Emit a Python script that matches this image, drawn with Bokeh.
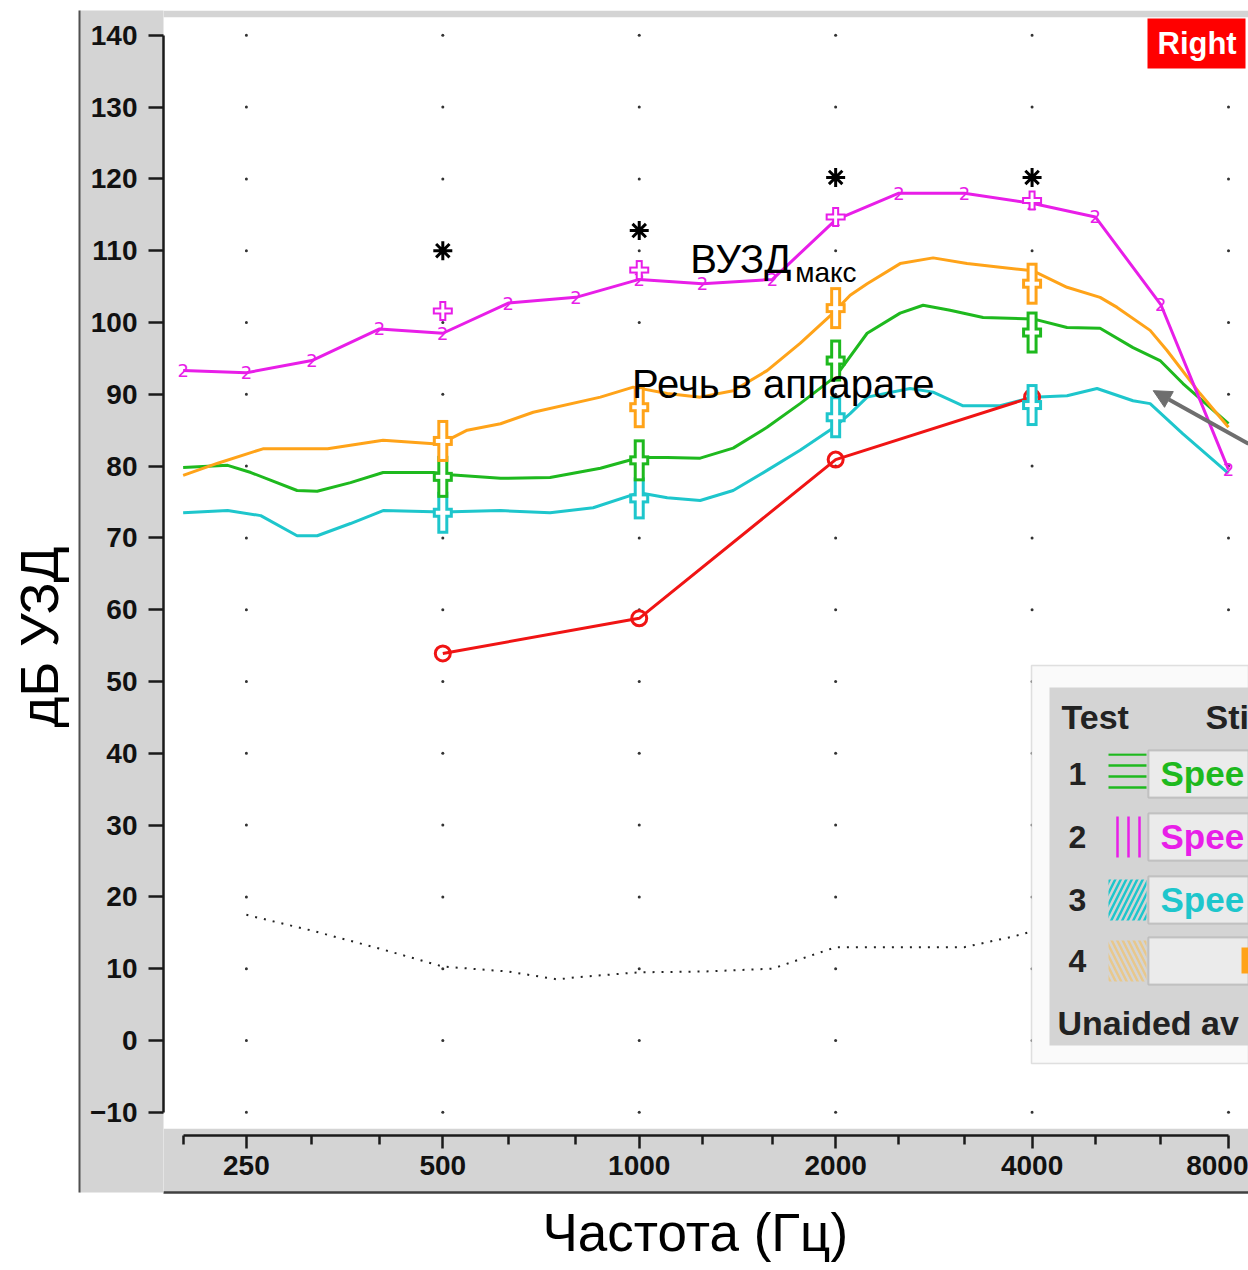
from bokeh.plotting import figure
from bokeh.models import (Range1d, FixedTicker, Title, Label, BoxAnnotation,
                          Arrow, NormalHead, CustomJSTickFormatter, LinearAxis,
                          LogAxis)
from bokeh.core.properties import value
from bokeh.embed import file_html
from bokeh.resources import INLINE

# ---------------- data ----------------
X_TICKS = [250, 500, 1000, 2000, 4000, 8000]
X_MINOR = [200, 315, 400, 630, 800, 1250, 1600, 2500, 3150, 5000, 6300]
Y_TICKS = list(range(-10, 141, 10))

# Test 2 (magenta) - output with "2" markers
freq_t2 = [200, 250, 315, 400, 500, 630, 800, 1000, 1250, 1600, 2000, 2500,
           3150, 4000, 5000, 6300, 8000]
db_t2 = [93.3, 93.0, 94.7, 99.1, 98.5, 102.7, 103.5, 106.0, 105.4, 106.0,
         114.3, 118.0, 118.0, 116.6, 114.7, 102.5, 79.5]

# Test 4 (orange)
freq_t4 = [200, 226, 265, 333, 405, 484, 513, 545, 613, 688, 872, 979, 1104,
           1240, 1393, 1570, 1764, 1982, 2105, 2235, 2511, 2821, 3180, 3573,
           4014, 4525, 5085, 5400, 6067, 6440, 7235, 8000]
db_t4 = [78.7, 80.4, 82.4, 82.4, 83.6, 83.1, 83.8, 85.0, 85.9, 87.5, 89.6,
         91.0, 90.1, 89.6, 90.5, 93.3, 97.1, 101.3, 103.8, 105.4, 108.2, 109.0,
         108.2, 107.7, 107.2, 104.9, 103.5, 102.1, 98.9, 96.1, 90.1, 85.4]

# Test 1 (green)
freq_t1 = [200, 234, 254, 299, 321, 361, 405, 484, 513, 613, 730, 872, 1000,
           1104, 1240, 1393, 1570, 1764, 2000, 2235, 2511, 2723, 2995, 3365,
           4014, 4525, 5085, 5712, 6283, 6812, 8000]
db_t1 = [79.8, 80.1, 79.1, 76.6, 76.5, 77.7, 79.1, 79.1, 78.8, 78.3, 78.4,
         79.7, 81.2, 81.2, 81.1, 82.5, 85.4, 88.7, 92.5, 98.5, 101.3, 102.4,
         101.7, 100.7, 100.5, 99.3, 99.2, 96.5, 94.7, 91.5, 85.9]

# Test 3 (cyan)
freq_t3 = [200, 234, 263, 299, 321, 361, 405, 500, 613, 730, 850, 1000, 1104,
           1240, 1393, 1570, 1764, 1982, 2105, 2235, 2601, 2821, 3136, 3573,
           4014, 4525, 5030, 5712, 6067, 6812, 8000]
db_t3 = [73.5, 73.8, 73.1, 70.3, 70.3, 72.0, 73.8, 73.6, 73.8, 73.5, 74.2,
         76.3, 75.6, 75.2, 76.6, 79.4, 82.2, 85.3, 87.3, 89.6, 90.8, 90.3,
         88.4, 88.4, 89.6, 89.8, 90.8, 89.1, 88.7, 84.5, 79.0]

# Unaided thresholds (red circles)
freq_thr = [500, 1000, 2000, 4000]
db_thr = [53.9, 58.8, 80.9, 89.6]

# Dotted reference curve
freq_ref = [250, 315, 400, 500, 630, 750, 800, 1000, 1250, 1600, 2000, 2500,
            3150, 3750, 4000]
db_ref = [17.5, 15.3, 12.8, 10.3, 9.6, 8.5, 8.8, 9.5, 9.6, 10.0, 13.0, 13.0,
          13.0, 14.5, 15.2]

# Measured points at audiometric frequencies
freq_meas = [500, 1000, 2000, 4000]
meas_t4 = [83.5, 88.2, 102.0, 105.4]
meas_t1 = [78.5, 80.8, 94.7, 98.6]
meas_t3 = [73.5, 75.5, 86.8, 88.5]
meas_t2 = [101.6, 107.3, 114.7, 117.0]
ucl = [110.0, 112.8, 120.2, 120.2]

LEGEND_NUM = ["1", "2", "3", "4"]
LEGEND_TXT = ["Spee", "Spee", "Spee", ""]

# ---------------- styling ----------------
MAGENTA = "#e81ee8"
ORANGE = "#ffa319"
GREEN = "#1eb91e"
CYAN = "#1ec6cc"
RED = "#f01414"
GRAY = "#d4d4d4"
AX = "#1a1a1a"
FONT = "Liberation Sans"

FL, FB = 163, 1192          # frame left / bottom in page pixels


def sx(px):
    return px - FL


def sy(py):
    return FB - py


p = figure(width=1248, height=1270, x_axis_type="log",
           x_range=Range1d(186.6, 8585.0), y_range=Range1d(-21.17, 143.45),
           output_backend="svg", toolbar_location=None,
           min_border_left=163, min_border_right=0, min_border_top=10,
           min_border_bottom=78)
p.background_fill_color = "white"
p.border_fill_color = "white"
p.outline_line_color = None
p.grid.grid_line_color = None

for ax in (p.xaxis[0], p.yaxis[0]):
    ax.axis_line_width = 2.5
    ax.axis_line_color = AX
    ax.major_tick_line_width = 2.5
    ax.major_tick_line_color = AX
    ax.minor_tick_line_width = 2.5
    ax.minor_tick_line_color = AX
    ax.major_tick_in = 0
    ax.minor_tick_in = 0
    ax.major_label_text_font = FONT
    ax.major_label_text_font_style = "bold"
    ax.major_label_text_font_size = "28px"
    ax.major_label_text_color = "#111111"

xa = p.xaxis[0]
xa.ticker = FixedTicker(ticks=X_TICKS, minor_ticks=X_MINOR)
xa.formatter = CustomJSTickFormatter(code="return tick.toFixed(0);")
xa.bounds = (200, 8000)
xa.major_tick_out = 13
xa.minor_tick_out = 9
xa.major_label_standoff = 8
xa.fixed_location = -13.23

ya = p.yaxis[0]
ya.ticker = FixedTicker(ticks=Y_TICKS)
ya.bounds = (-10, 140)
ya.major_tick_out = 15
ya.minor_tick_out = 0
ya.minor_tick_line_color = None
ya.major_label_standoff = 11
ya.background_fill_color = GRAY
ya.axis_label = "\u00a0"
ya.axis_label_standoff = 0
ya.axis_label_text_font_size = "4px"

# dark outer edges of the panel (plain axes with only a line)
edge_y = LinearAxis(ticker=FixedTicker(ticks=[]), major_tick_out=0,
                    minor_tick_out=0, major_label_standoff=0,
                    axis_line_color="#505050", axis_line_width=2)
p.add_layout(edge_y, "left")
edge_x = LogAxis(ticker=FixedTicker(ticks=[]), major_tick_out=0,
                 minor_tick_out=0, major_label_standoff=0,
                 axis_line_color="#404040", axis_line_width=2.5)
p.add_layout(edge_x, "below")

p.add_layout(Title(text="Частота (Гц)", align="left",
                   text_font=FONT, text_font_size="53px",
                   text_font_style="normal", text_color="black", offset=379,
                   standoff=17), "below")
p.add_layout(Title(text="дБ УЗД", align="left", vertical_align="top",
                   text_font=FONT, text_font_size="53px",
                   text_font_style="normal", text_color="black", offset=465,
                   standoff=18), "left")

# gray strips of the panel inside the frame
p.add_layout(BoxAnnotation(top=-12.3, fill_color=GRAY, fill_alpha=1,
                           line_color=None, level="underlay"))
p.add_layout(BoxAnnotation(bottom=142.5, fill_color=GRAY, fill_alpha=1,
                           line_color=None, level="underlay"))

# grid dots
gx = [f for f in X_TICKS for _ in Y_TICKS]
gy = [d for _ in X_TICKS for d in Y_TICKS]
p.scatter(gx, gy, size=3, color="#333333", line_width=0)

# dotted curve
p.line(freq_ref, db_ref, line_color="#222222", line_width=2, line_dash="2 7")

# curves
p.line(freq_t3, db_t3, line_color=CYAN, line_width=3)
p.line(freq_t1, db_t1, line_color=GREEN, line_width=3)
p.line(freq_t4, db_t4, line_color=ORANGE, line_width=3)
p.line(freq_t2, db_t2, line_color=MAGENTA, line_width=3)
p.text(freq_t2, db_t2, text=value("2"), text_font=value("DejaVu Sans"),
       text_font_size="18px", text_color=MAGENTA, text_align="center",
       text_baseline="middle")

# red thresholds
p.line(freq_thr, db_thr, line_color=RED, line_width=3)
p.scatter(freq_thr, db_thr, marker="circle", size=15, fill_color=None,
          line_color=RED, line_width=3)


def tall_cross(ys, color):
    p.rect(freq_meas, ys, width=11, height=42, width_units="screen",
           height_units="screen", fill_color=color, line_color=None)
    p.rect(freq_meas, ys, width=20, height=10, width_units="screen",
           height_units="screen", fill_color=color, line_color=None)
    p.rect(freq_meas, ys, width=5, height=36, width_units="screen",
           height_units="screen", fill_color="white", line_color=None)
    p.rect(freq_meas, ys, width=14, height=4, width_units="screen",
           height_units="screen", fill_color="white", line_color=None)


tall_cross(meas_t3, CYAN)
tall_cross(meas_t1, GREEN)
tall_cross(meas_t4, ORANGE)

# magenta plus markers
p.rect(freq_meas, meas_t2, width=7, height=20, width_units="screen",
       height_units="screen", fill_color=MAGENTA, line_color=None)
p.rect(freq_meas, meas_t2, width=20, height=7, width_units="screen",
       height_units="screen", fill_color=MAGENTA, line_color=None)
p.rect(freq_meas, meas_t2, width=3, height=16, width_units="screen",
       height_units="screen", fill_color="white", line_color=None)
p.rect(freq_meas, meas_t2, width=16, height=3, width_units="screen",
       height_units="screen", fill_color="white", line_color=None)

# UCL asterisks
p.scatter(freq_meas, ucl, marker="asterisk", size=19, line_color="black",
          line_width=3)

# annotation texts
p.add_layout(Label(x=1197, y=108.9, text="ВУЗД", text_font=FONT,
                   text_font_size="40px", text_color="black",
                   text_baseline="alphabetic"))
p.add_layout(Label(x=1734, y=106.9, text="макс", text_font=FONT,
                   text_font_size="28px", text_color="black",
                   text_baseline="alphabetic"))
p.add_layout(Label(x=975, y=91.5, text="Речь в аппарате", text_font=FONT,
                   text_font_size="40px", text_color="black",
                   text_baseline="alphabetic"))

ARROW = "#6e6e6e"
p.add_layout(Arrow(end=NormalHead(size=18, fill_color=ARROW, line_color=ARROW),
                   x_start=8585, y_start=83.1, x_end=6133, y_end=90.5,
                   line_color=ARROW, line_width=4))

# "Right" badge
p.add_layout(BoxAnnotation(left=sx(1147), right=sx(1245), top=sy(18),
                           bottom=sy(68), left_units="screen",
                           right_units="screen", top_units="screen",
                           bottom_units="screen", fill_color="#ff0000",
                           fill_alpha=1, line_color=None))
p.add_layout(Label(x=sx(1157), y=sy(43), x_units="screen", y_units="screen",
                   text="Right", text_font=FONT, text_font_size="31px",
                   text_font_style="bold", text_color="white",
                   text_baseline="middle"))

# legend window (screen units from the frame's bottom-left)
p.add_layout(BoxAnnotation(left=sx(1031), bottom=sy(1063), top=sy(665),
                           left_units="screen", bottom_units="screen",
                           top_units="screen", fill_color="#fafafa",
                           fill_alpha=1, line_color="#9a9a9a", line_width=1.5))
p.add_layout(BoxAnnotation(left=sx(1049), bottom=sy(1045), top=sy(687),
                           left_units="screen", bottom_units="screen",
                           top_units="screen", fill_color=GRAY, fill_alpha=1,
                           line_color=None))
ROW_PY = [773, 836, 899, 960]
SW_COLORS = [GREEN, MAGENTA, CYAN, "#e8c88c"]
SW_HATCH = ["-", "|", "/", "\\"]
TXT_COLORS = [GREEN, MAGENTA, CYAN, ORANGE]
for num, txt, rpy, swc, hp, tc in zip(LEGEND_NUM, LEGEND_TXT, ROW_PY,
                                      SW_COLORS, SW_HATCH, TXT_COLORS):
    ry = sy(rpy)
    p.add_layout(BoxAnnotation(left=sx(1148), bottom=ry - 24, top=ry + 23,
                               left_units="screen", bottom_units="screen",
                               top_units="screen", fill_color="#ebebeb",
                               fill_alpha=1, line_color="#7a7a7a",
                               line_width=2))
    p.add_layout(BoxAnnotation(left=sx(1108), right=sx(1146), bottom=ry - 21,
                               top=ry + 20, left_units="screen",
                               right_units="screen", bottom_units="screen",
                               top_units="screen", fill_alpha=0,
                               line_color=None, hatch_pattern=hp,
                               hatch_color=swc, hatch_scale=11,
                               hatch_weight=2.5))
    p.add_layout(Label(x=sx(1077), y=ry, x_units="screen", y_units="screen",
                       text=num, text_font=FONT, text_font_size="32px",
                       text_font_style="bold", text_color="#222222",
                       text_align="center", text_baseline="middle"))
    if txt:
        p.add_layout(Label(x=sx(1160), y=ry, x_units="screen",
                           y_units="screen", text=txt, text_font=FONT,
                           text_font_size="35px", text_font_style="bold",
                           text_color=tc, text_baseline="middle"))

# fragment of the cut-off orange text in row 4
p.add_layout(BoxAnnotation(left=sx(1241), right=sx(1248),
                           bottom=sy(ROW_PY[3]) - 13, top=sy(ROW_PY[3]) + 13,
                           left_units="screen", right_units="screen",
                           bottom_units="screen", top_units="screen",
                           fill_color=ORANGE, fill_alpha=1, line_color=None))

p.add_layout(Label(x=sx(1061), y=sy(716), x_units="screen", y_units="screen",
                   text="Test", text_font=FONT, text_font_size="34px",
                   text_font_style="bold", text_color="#222222",
                   text_baseline="middle"))
p.add_layout(Label(x=sx(1205), y=sy(716), x_units="screen", y_units="screen",
                   text="Sti", text_font=FONT, text_font_size="34px",
                   text_font_style="bold", text_color="#222222",
                   text_baseline="middle"))
p.add_layout(Label(x=sx(1057), y=sy(1022), x_units="screen", y_units="screen",
                   text="Unaided av", text_font=FONT,
                   text_font_size="34px", text_font_style="bold",
                   text_color="#222222", text_baseline="middle"))

open("out.html", "w").write(file_html(p, INLINE))
